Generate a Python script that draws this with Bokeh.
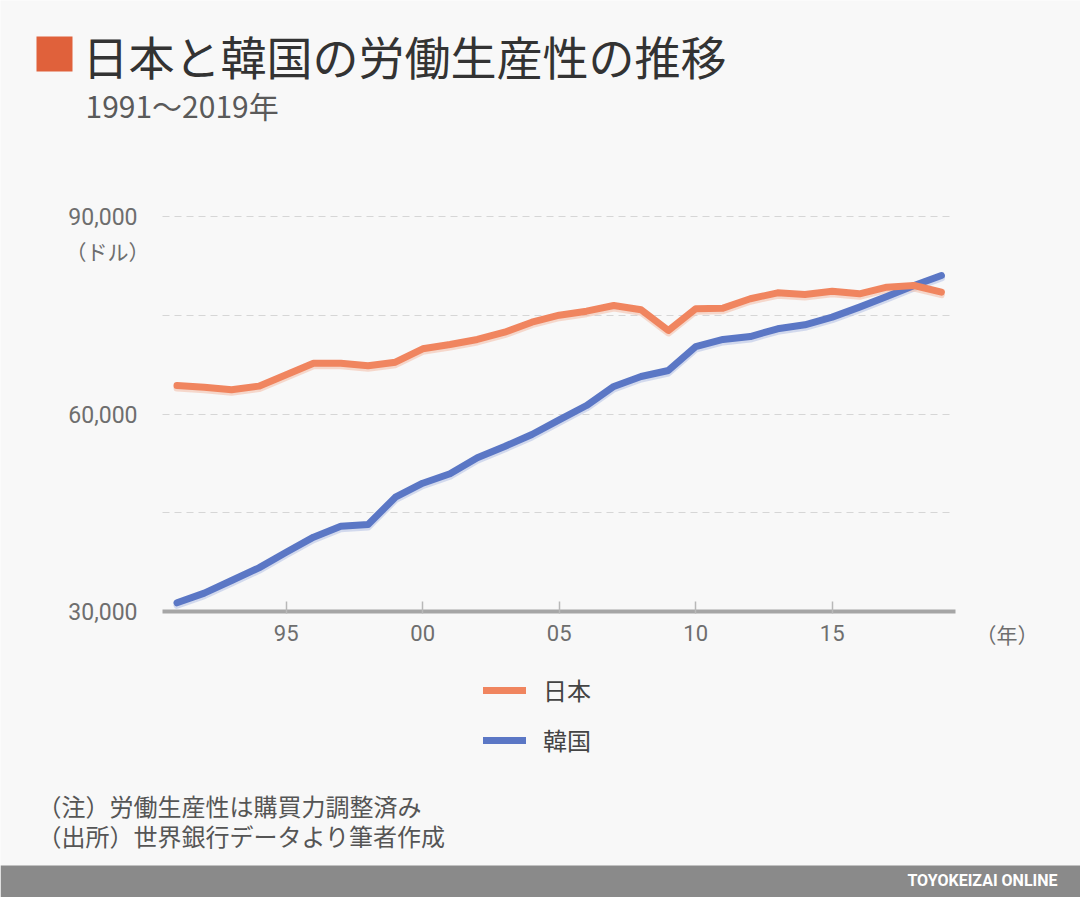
from bokeh.plotting import figure
from bokeh.models import (Range1d, FixedTicker, NumeralTickFormatter, Label, Legend,
                          LegendItem, LinearAxis, Grid)
from bokeh.embed import file_html
from bokeh.resources import INLINE

# ---------------- data ----------------
years = list(range(1991, 2020))
japan = [64330, 64070, 63670, 64230, 65950, 67720, 67720, 67320, 67870, 69900,
         70560, 71320, 72430, 73950, 75010, 75620, 76480, 75830, 72680, 75980,
         76080, 77500, 78410, 78150, 78660, 78260, 79270, 79520, 78510]
korea = [31320, 32790, 34710, 36630, 39010, 41290, 42960, 43220, 47360, 49490,
         50920, 53350, 55060, 56890, 59100, 61290, 64180, 65700, 66610, 70250,
         71320, 71770, 72940, 73550, 74710, 76230, 77850, 79520, 81040]
series_names = ["日本", "韓国"]
x_ticks = [1995, 2000, 2005, 2010, 2015]
x_tick_labels = ["95", "00", "05", "10", "15"]
y_label_ticks = [30000, 60000, 90000]
y_grid_ticks = [45000, 60000, 75000, 90000]

title_text = "日本と韓国の労働生産性の推移"
subtitle_text = "1991〜2019年"
y_unit_text = "（ドル）"
x_unit_text = "（年）"
notes = ["（注）労働生産性は購買力調整済み", "（出所）世界銀行データより筆者作成"]
brand = "TOYOKEIZAI ONLINE"

# ---------------- style / layout ----------------
W, H = 1080, 897
BG = "#f8f8f8"
ORANGE = "#e0613b"
JP_COLOR = "#f0855f"
KR_COLOR = "#5b77c5"
JP_SHADOW = "#f3c2ad"
KR_SHADOW = "#b9c5e6"
BAR = "#8a8a8a"
CJK = "Noto Sans CJK JP"

# plot-area geometry (canvas pixels)
PX_YEAR = 27.3            # pixels per year
X_FIRST = 176.5           # pixel of first year
Y_BASE_PX = 611           # pixel of the 30,000 baseline
PX_PER_UNIT = 395 / 60000.0
SHADOW_PX = 2.5
x_start = years[0] - X_FIRST / PX_YEAR
x_end = x_start + W / PX_YEAR
y_start = 30000 - (H - Y_BASE_PX) / PX_PER_UNIT
y_end = 30000 + Y_BASE_PX / PX_PER_UNIT


def xd(px):
    return x_start + px / PX_YEAR


p = figure(width=W, height=H, x_range=Range1d(x_start, x_end), y_range=Range1d(y_start, y_end),
           x_axis_type=None, y_axis_type=None, min_border=0,
           output_backend="svg", toolbar_location=None,
           background_fill_color=BG, border_fill_color=BG, outline_line_color=None)
p.grid.visible = False
p.extra_x_ranges = {"px": Range1d(0, W)}
p.extra_y_ranges = {"px": Range1d(H, 0),
                    "shadow": Range1d(y_start + SHADOW_PX / PX_PER_UNIT,
                                      y_end + SHADOW_PX / PX_PER_UNIT)}

# ---- grid ----
grid_kw = dict(dimension=1, ticker=FixedTicker(ticks=y_grid_ticks),
               grid_line_color="#d6d6d6", grid_line_dash="7 5", grid_line_width=1.2)
if "cross_bounds" in Grid.properties():
    grid_kw["cross_bounds"] = (xd(162), xd(950))
    p.add_layout(Grid(**grid_kw), "center")
else:
    p.segment(x0=[xd(162)] * len(y_grid_ticks), x1=[xd(950)] * len(y_grid_ticks),
              y0=y_grid_ticks, y1=y_grid_ticks, line_color="#d6d6d6",
              line_dash="7 5", line_width=1.2)

# ---- series (soft drop shadow + line) ----
p.line(years, korea, line_width=7, line_color=KR_SHADOW, line_alpha=0.6,
       line_cap="round", line_join="round", y_range_name="shadow")
p.line(years, japan, line_width=7, line_color=JP_SHADOW, line_alpha=0.6,
       line_cap="round", line_join="round", y_range_name="shadow")
r_kr = p.line(years, korea, line_width=7, line_color=KR_COLOR, line_cap="round", line_join="round")
r_jp = p.line(years, japan, line_width=7, line_color=JP_COLOR, line_cap="round", line_join="round")

# ---- axes ----
xaxis = LinearAxis(fixed_location=30000, bounds=(xd(162), xd(955)),
                   ticker=FixedTicker(ticks=x_ticks),
                   major_label_overrides={t: l for t, l in zip(x_ticks, x_tick_labels)},
                   axis_line_color="#a6a6a6", axis_line_width=4,
                   major_tick_in=10, major_tick_out=2,
                   major_tick_line_color="#b8b8b8", major_tick_line_width=1.5,
                   minor_tick_line_color=None, major_label_standoff=11,
                   major_label_text_font="Roboto", major_label_text_font_size="22px",
                   major_label_text_color="#6e6e6e")
p.add_layout(xaxis, "below")

yaxis = LinearAxis(fixed_location=xd(162), ticker=FixedTicker(ticks=y_label_ticks),
                   formatter=NumeralTickFormatter(format="0,0"),
                   axis_line_color=None, major_tick_line_color=None,
                   minor_tick_line_color=None, major_label_standoff=19,
                   major_label_text_font="Roboto", major_label_text_font_size="23px",
                   major_label_text_color="#6e6e6e")
p.add_layout(yaxis, "left")

# ---- decorations (canvas-pixel range "px") ----
px = dict(x_range_name="px", y_range_name="px")
p.quad(left=[36], right=[72], top=[36], bottom=[71], fill_color=ORANGE, line_color=None, **px)
p.quad(left=[0], right=[W], top=[865], bottom=[H], fill_color=BAR, line_color=None, **px)

p.add_layout(Label(x=82, y=54, text=title_text, text_font=CJK, text_font_size="46px",
                   text_color="#333333", text_baseline="middle", **px))
p.add_layout(Label(x=85, y=104, text=subtitle_text, text_font=CJK, text_font_size="30px",
                   text_color="#5a5a5a", text_baseline="middle", **px))
p.add_layout(Label(x=149, y=250, text=y_unit_text, text_font=CJK, text_font_size="21px",
                   text_color="#6e6e6e", text_align="right", text_baseline="middle", **px))
p.add_layout(Label(x=975, y=633, text=x_unit_text, text_font=CJK, text_font_size="21px",
                   text_color="#6e6e6e", text_align="left", text_baseline="middle", **px))
p.add_layout(Label(x=37, y=805, text=notes[0], text_font=CJK, text_font_size="24px",
                   text_color="#555555", text_baseline="middle", **px))
p.add_layout(Label(x=37, y=835, text=notes[1], text_font=CJK, text_font_size="24px",
                   text_color="#555555", text_baseline="middle", **px))
p.add_layout(Label(x=1057, y=880, text=brand, text_font="Roboto", text_font_size="16px",
                   text_font_style="bold", text_color="#ffffff",
                   text_align="right", text_baseline="middle", **px))

# ---- legend ----
legend = Legend(items=[LegendItem(label=series_names[0], renderers=[r_jp]),
                       LegendItem(label=series_names[1], renderers=[r_kr])],
                location=(483, 140), orientation="vertical",
                background_fill_alpha=0, border_line_color=None,
                padding=0, margin=0, spacing=15,
                glyph_width=43, glyph_height=32, label_height=32,
                label_standoff=17, label_text_font=CJK,
                label_text_font_size="24px", label_text_color="#444444")
p.add_layout(legend, "center")

open("out.html", "w").write(file_html(p, INLINE))
